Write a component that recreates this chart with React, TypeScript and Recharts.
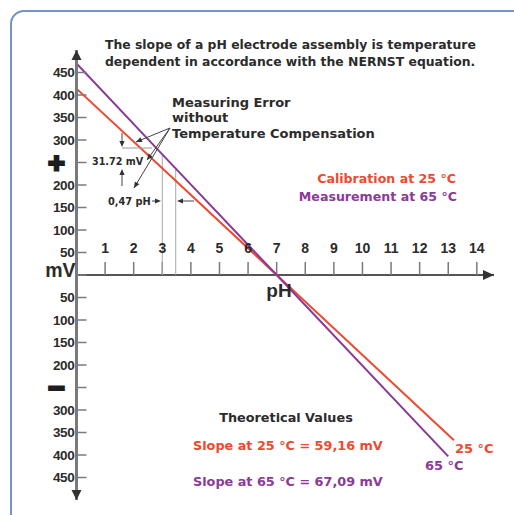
import React from "react"
import { LineChart, Line, XAxis, YAxis, ReferenceLine, ReferenceDot } from "recharts"

const calibrationPh = [0, 3, 7, 13.2]
const calibrationMv = [414, 237, 0, -367]
const measurementPh = [0, 3, 7, 13]
const measurementMv = [470, 268, 0, -403]

const phTicks = [1, 2, 3, 4, 5, 6, 7, 8, 9, 10, 11, 12, 13, 14]
const mvTicks = [450, 400, 350, 300, 250, 200, 150, 100, 50, 0, -50, -100, -150, -200, -250, -300, -350, -400, -450]
const mvLabels = ["450", "400", "350", "300", "+", "200", "150", "100", "50", "mV", "50", "100", "150", "200", "−", "300", "350", "400", "450"]

// error read at pH 3 between the two slopes
const errorPh = [3, 3.47]
const errorTops = [268, 240]

const RED = "#ef4a2f"
const PURPLE = "#8b3a97"
const INK = "#2b2b2b"
const FONT = "'Liberation Sans', Arial, sans-serif"
const WIDE = "'DejaVu Sans', sans-serif"

const calibration = calibrationPh.map((ph, i) => ({ ph, mv: calibrationMv[i] }))
const measurement = measurementPh.map((ph, i) => ({ ph, mv: measurementMv[i] }))

function MvTick(props: any) {
  const { x, y, payload } = props
  const label = mvLabels[mvTicks.indexOf(payload.value)]
  let text
  if (label === "+" || label === "−") {
    text = (
      <text x={x - 20} y={y} dy="0.36em" textAnchor="middle" fontFamily={WIDE} fontSize={22} fontWeight={900} fill="#1e1e1e" stroke="#1e1e1e" strokeWidth={3}>
        {label}
      </text>
    )
  } else if (label === "mV") {
    text = (
      <text x={x - 1} y={y - 5} dy="0.36em" textAnchor="end" fontSize={19.5} fontWeight={700} fill={INK}>
        {label}
      </text>
    )
  } else {
    text = (
      <text x={x - 2} y={y} dy="0.36em" textAnchor="end" fontSize={13.5} fontWeight={700} fill={INK} letterSpacing={-0.3}>
        {label}
      </text>
    )
  }
  return (
    <g fontFamily={FONT}>
      <line x1={x} x2={x + 10} y1={y} y2={y} stroke="#7a7a7a" strokeWidth={1.5} />
      {text}
    </g>
  )
}

const arrowUp = (p: any) => <path d={`M${p.cx - 5},${p.cy + 10} L${p.cx},${p.cy} L${p.cx + 5},${p.cy + 10} Z`} fill="#333" />
const arrowDown = (p: any) => <path d={`M${p.cx - 5},${p.cy - 10} L${p.cx},${p.cy} L${p.cx + 5},${p.cy - 10} Z`} fill="#333" />
const arrowRight = (p: any) => <path d={`M${p.cx - 11},${p.cy - 5} L${p.cx},${p.cy} L${p.cx - 11},${p.cy + 5} Z`} fill="#333" />

function Head({ x, y, angle }: { x: number; y: number; angle: number }) {
  return <path d="M0,0 L-6,-2.6 L-6,2.6 Z" fill="#333" transform={`translate(${x},${y}) rotate(${angle})`} />
}

function Annotations() {
  const t = { fontFamily: WIDE, fontWeight: 700 }
  return (
    <svg width={514} height={515} style={{ position: "absolute", left: 0, top: 0, pointerEvents: "none" }}>
      <g {...t} fill={INK} fontSize={12.4}>
        <text x={105} y={49}>The slope of a pH electrode assembly is temperature</text>
        <text x={105} y={66}>dependent in accordance with the NERNST equation.</text>
      </g>
      <g {...t} fill={INK} fontSize={13}>
        <text x={172} y={107}>Measuring Error</text>
        <text x={172} y={122}>without</text>
        <text x={172} y={138}>Temperature Compensation</text>
      </g>
      <g stroke="#444" strokeWidth={1} fill="none">
        <line x1={170} y1={128} x2={136} y2={142} />
        <line x1={170} y1={128} x2={147} y2={160} />
        <line x1={170} y1={128} x2={134} y2={188} />
        <line x1={122} y1={133} x2={122} y2={145} />
        <line x1={122} y1={186} x2={122} y2={171} />
        <line x1={122} y1={148} x2={152} y2={148} stroke="#999" />
        <line x1={152} y1={201} x2={158} y2={201} />
        <line x1={194} y1={201} x2={180} y2={201} />
      </g>
      <Head x={136} y={142} angle={157} />
      <Head x={147} y={160} angle={126} />
      <Head x={134} y={188} angle={121} />
      <Head x={122} y={147} angle={90} />
      <Head x={122} y={169} angle={-90} />
      <Head x={161} y={201} angle={0} />
      <Head x={177} y={201} angle={180} />
      <text {...t} x={92} y={165} fontSize={9.6} fill={INK}>31.72 mV</text>
      <text {...t} x={108} y={205} fontSize={9.8} fill={INK}>0,47 pH</text>
      <text {...t} x={456} y={183} fontSize={12.6} fill={RED} textAnchor="end">Calibration at 25 °C</text>
      <text {...t} x={457} y={201} fontSize={12.6} fill={PURPLE} textAnchor="end">Measurement at 65 °C</text>
      <text fontFamily={FONT} fontWeight={700} x={279} y={297} fontSize={19} fill={INK} textAnchor="middle">pH</text>
      <text {...t} x={286} y={422} fontSize={12.8} fill={INK} textAnchor="middle">Theoretical Values</text>
      <text {...t} x={193} y={450} fontSize={12.8} fill={RED}>Slope at 25 °C = 59,16 mV</text>
      <text {...t} x={193} y={486} fontSize={12.8} fill={PURPLE}>Slope at 65 °C = 67,09 mV</text>
      <text {...t} x={455} y={453} fontSize={13} fill={RED}>25 °C</text>
      <text {...t} x={425} y={470} fontSize={13} fill={PURPLE}>65 °C</text>
    </svg>
  )
}

export default function App() {
  return (
    <div style={{ position: "absolute", left: 0, top: 0, width: 514, height: 515, overflow: "hidden", background: "#fff" }}>
      <div
        style={{
          position: "absolute",
          left: 10,
          top: 10,
          width: 540,
          height: 540,
          border: "2px solid #7194c9",
          borderRadius: 14,
          boxSizing: "border-box",
        }}
      />
      <div style={{ position: "absolute", left: 0, top: 0 }}>
        <LineChart width={514} height={515} margin={{ top: 50, right: 20, bottom: 15, left: 10 }}>
          <XAxis type="number" dataKey="ph" domain={[0, 14.6]} allowDataOverflow hide />
          <YAxis
            type="number"
            dataKey="mv"
            domain={[-500, 500]}
            ticks={mvTicks}
            interval={0}
            width={66.5}
            tickLine={false}
            tickSize={0}
            tickMargin={0}
            axisLine={{ stroke: "#7a7a7a", strokeWidth: 3 }}
            tick={<MvTick />}
            allowDataOverflow
          />
          <ReferenceLine y={0} stroke="#555" strokeWidth={2} />
          {phTicks.map((ph) => (
            <ReferenceLine
              key={ph}
              segment={[
                { x: ph, y: 0 },
                { x: ph, y: 29 },
              ]}
              stroke="#7a7a7a"
              strokeWidth={1.5}
              label={{ value: String(ph), position: "top", offset: 9, fontSize: 14, fontWeight: 700, fill: INK, fontFamily: FONT }}
            />
          ))}
          {errorPh.map((ph, i) => (
            <ReferenceLine
              key={"e" + ph}
              segment={[
                { x: ph, y: 0 },
                { x: ph, y: errorTops[i] },
              ]}
              stroke="#a8a8a8"
              strokeWidth={1}
            />
          ))}
          <Line data={calibration} dataKey="mv" stroke={RED} strokeWidth={2} dot={false} isAnimationActive={false} />
          <Line data={measurement} dataKey="mv" stroke={PURPLE} strokeWidth={2} dot={false} isAnimationActive={false} />
          <ReferenceDot x={0} y={500} r={0} ifOverflow="visible" shape={arrowUp} />
          <ReferenceDot x={0} y={-500} r={0} ifOverflow="visible" shape={arrowDown} />
          <ReferenceDot x={14.6} y={0} r={0} ifOverflow="visible" shape={arrowRight} />
        </LineChart>
      </div>
      <Annotations />
    </div>
  )
}
